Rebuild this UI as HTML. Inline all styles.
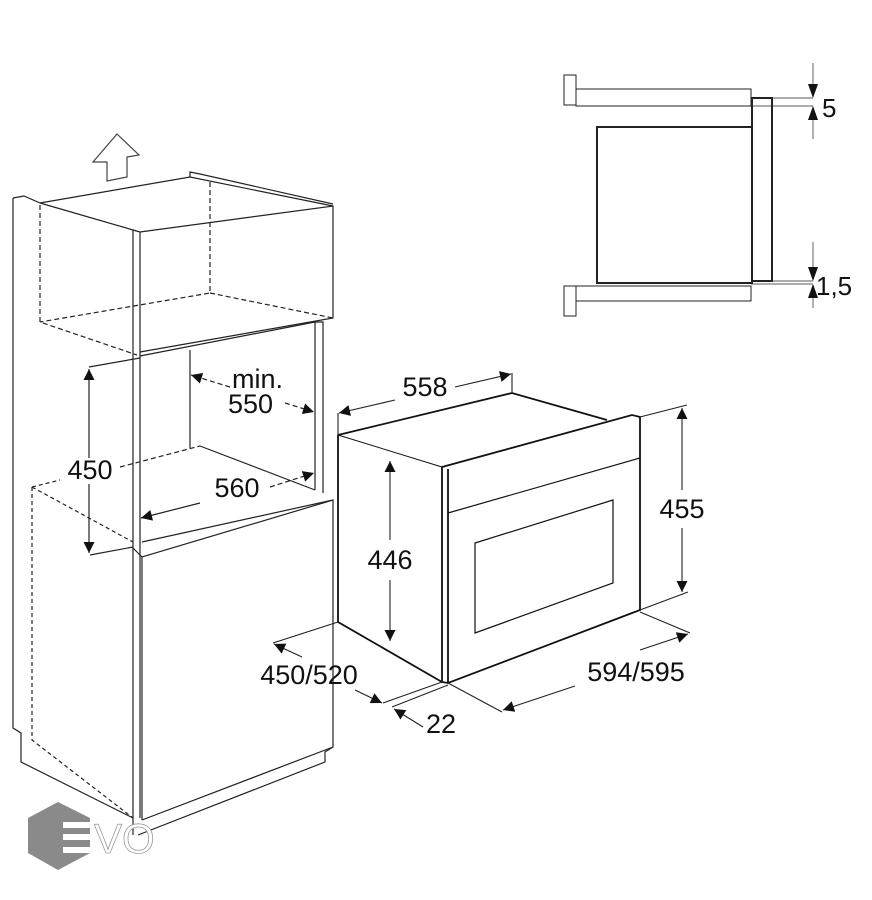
<!DOCTYPE html>
<html><head><meta charset="utf-8"><style>
html,body{margin:0;padding:0;background:#fff;}
svg{display:block;}
text{font-family:"Liberation Sans",sans-serif;fill:#111;}
</style></head><body>
<svg width="872" height="900" viewBox="0 0 872 900" xmlns="http://www.w3.org/2000/svg">
<defs>
<marker id="ah" viewBox="0 0 10 10" refX="10" refY="5" markerWidth="18" markerHeight="11" markerUnits="userSpaceOnUse" orient="auto"><path d="M0,0 L10,5 L0,10 z" fill="#111"/></marker>
</defs>
<g fill="none" stroke="#222" stroke-width="1.2">
<path d="M117,134 L139,155 L127,157 L127,177 L107,181 L107,162 L93,162 Z" stroke="#444"/>
<path d="M13,198 L13,728 L21,733 L21,762 L133,818"/>
<path d="M13,198 L24,196 L40,203"/>
<path d="M40,203 L190,177 L333,206"/>
<path d="M190,177 L190,172 L200,174 L333,204"/>
<path d="M40,203 L133,230 L140,232 L333,206 L333,318 L140,352"/>
<path d="M133,230 L133,835 M140,232 L140,818"/>
<path d="M40,205 L40,322 L137,355 M210,182 L210,293 L40,322 M210,293 L333,318" stroke-dasharray="5,3"/>
<path d="M140,356 L315,322 L323,322 L323,493 M315,322 L315,490"/>
<path d="M190,350 L190,448"/>
<path d="M200,446 L315,490 M142,542 L333,500"/>
<path d="M140,358 L89,367"/>
<path d="M133,547 L90,555"/>
<path d="M133,548 L142,557 L333,500 L333,747 L142,820 M142,557 L142,820"/>
<path d="M333,747 L325,752 L325,762 L138,835"/>
<path d="M32,487 L60,480 M32,487 L32,740 L133,818 M32,487 L133,542" stroke-dasharray="4,3"/>
<path d="M120,467 L200,446" stroke-dasharray="5,3"/>
<path d="M89,458 L89,369" marker-end="url(#ah)"/>
<path d="M89,484 L89,553" marker-end="url(#ah)"/>
<path d="M230,387 L191,375" stroke-dasharray="5,3" marker-end="url(#ah)"/>
<path d="M285,403 L314,412" stroke-dasharray="5,3" marker-end="url(#ah)"/>
<path d="M270,487 L314,473" stroke-dasharray="5,3" marker-end="url(#ah)"/>
<path d="M200,503 L141,518" marker-end="url(#ah)"/>
</g>
<g fill="none" stroke="#111">
<path d="M338,435 L512,393 L607,420" stroke-width="1.8"/>
<path d="M338,435 L338,622 L442,682" stroke-width="1.8"/>
<path d="M338,435 L442,467" stroke-width="1"/>
<path d="M442,467 L632,415 L640,417 L640,610 L448,683 L442,682 L442,467 M448,469 L448,683" stroke-width="1.8"/>
<path d="M448,513 L640,458" stroke-width="1.2"/>
<path d="M475,543 L613,500 L613,583 L475,633 Z" stroke-width="1.2"/>
</g>
<g fill="none" stroke="#222" stroke-width="1.1">
<path d="M338,413 L338,435 M512,373 L512,393"/>
<path d="M395,400 L339,413" marker-end="url(#ah)"/>
<path d="M455,387 L511,374" marker-end="url(#ah)"/>
<path d="M390,540 L390,461" marker-end="url(#ah)"/>
<path d="M390,580 L390,641" marker-end="url(#ah)"/>
<path d="M640,417 L687,405 M640,610 L688,592"/>
<path d="M682,490 L682,408" marker-end="url(#ah)"/>
<path d="M682,528 L682,592" marker-end="url(#ah)"/>
<path d="M640,612 L690,633 M448,683 L502,712"/>
<path d="M575,686 L503,710" marker-end="url(#ah)"/>
<path d="M640,650 L688,634" marker-end="url(#ah)"/>
<path d="M338,622 L273,643"/>
<path d="M302,657 L274,644" marker-end="url(#ah)"/>
<path d="M355,690 L382,703" marker-end="url(#ah)"/>
<path d="M442,682 L383,703 M448,685 L392,707"/>
<path d="M423,727 L394,709" marker-end="url(#ah)"/>
</g>
<g fill="none" stroke="#222">
<rect x="564" y="75" width="12" height="30" stroke-width="1"/>
<rect x="576" y="89" width="175" height="17" stroke-width="1"/>
<rect x="564" y="286" width="12" height="30" stroke-width="1"/>
<rect x="576" y="286" width="175" height="15" stroke-width="1"/>
<rect x="597" y="127" width="155" height="156" stroke-width="2"/>
<rect x="752" y="98" width="20" height="183" stroke-width="2"/>
<path d="M772,98 L813,98 M751,106 L813,106 M772,281 L813,281 M751,284 L813,284" stroke-width="0.8"/>
<path d="M813,63 L813,97 M813,139 L813,107 M813,242 L813,280 M813,308 L813,285" stroke-width="1" stroke="#666"/>
</g>
<g fill="#111">
<path d="M808,84 L818,84 L813,98 Z M808,120 L818,120 L813,106 Z M808,267 L818,267 L813,281 Z M808,298 L818,298 L813,284 Z"/>
</g>
<g font-size="27">
<text x="90" y="479" text-anchor="middle">450</text>
<text x="232" y="388">min.</text>
<text x="228" y="413">550</text>
<text x="237" y="497" text-anchor="middle">560</text>
<text x="425" y="396" text-anchor="middle">558</text>
<text x="390" y="569" text-anchor="middle">446</text>
<text x="682" y="518" text-anchor="middle">455</text>
<text x="636" y="681" text-anchor="middle">594/595</text>
<text x="309" y="684" text-anchor="middle">450/520</text>
<text x="441" y="733" text-anchor="middle">22</text>
<text x="822" y="117" font-size="26">5</text>
<text x="816" y="295" font-size="26">1,5</text>
</g>
<polygon points="58,802 90,818 90,853 58,870 28,853 28,818" fill="#8a8a8a"/>
<g fill="#fff"><rect x="63" y="822" width="28" height="6"/><rect x="63" y="834" width="28" height="6"/><rect x="63" y="847" width="28" height="6"/></g>
<text x="94" y="853" font-size="42" stroke="#999" stroke-width="0.8" style="fill:#fff">VO</text>
</svg>
</body></html>
